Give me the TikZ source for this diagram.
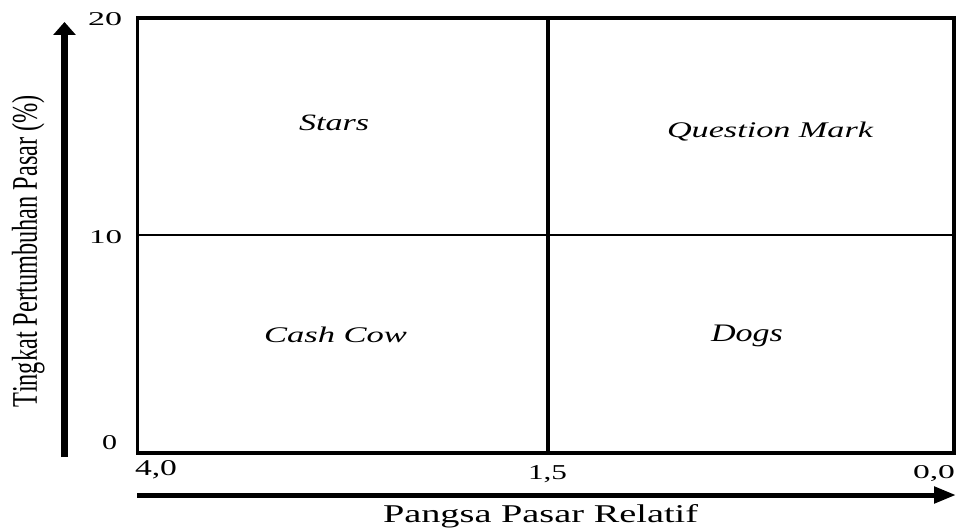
\documentclass[tikz,border=0pt]{standalone}
\usepackage{fontspec}
\setmainfont{Liberation Serif}
\usepackage{graphicx}
\usetikzlibrary{arrows.meta}
\tikzset{
  lbl/.style={inner sep=0pt, outer sep=0pt, anchor=base west},
  boxline/.style={line width=3.8pt, line cap=rect},
  axisline/.style={line width=6pt},
}
\newcommand{\fitbox}[3]{\resizebox{#1pt}{#2pt}{#3}}
\begin{document}
\begin{tikzpicture}[x=1pt,y=-1pt]
\useasboundingbox (0,0) rectangle (957,529);
% main box
\coordinate (tl) at (137.5,18);
\coordinate (br) at (954,453);
\coordinate (tm) at (548,18);
\coordinate (bm) at (548,453);
\coordinate (ml) at (137.5,235);
\coordinate (mr) at (954,235);
\draw[boxline] (tl) rectangle (br);
\draw[line width=4.5pt] (tm) -- (bm);
\draw[line width=2.6pt] (ml) -- (mr);
% axes
\coordinate (ya0) at (64.5,457);
\coordinate (ya1) at (64.5,22);
\coordinate (xa0) at (137,495);
\coordinate (xa1) at (956,495);
\draw[line width=6.5pt,-{Triangle[width=22pt,length=13pt]}] (ya0) -- (ya1);
\draw[line width=5pt,-{Triangle[width=16pt,length=22pt]}] (xa0) -- (xa1);
% quadrant labels
\node[lbl] (stars) at (299,130.5) {\fitbox{70}{15.5}{\itshape Stars}};
\node[lbl] (qm) at (667,138) {\fitbox{206}{15.5}{\itshape Question Mark}};
\node[lbl] (cash) at (264,342) {\fitbox{143}{15.5}{\itshape Cash Cow}};
\node[lbl] (dogs) at (711,341.5) {\fitbox{72}{16.5}{\itshape Dogs}};
% y ticks
\node[lbl] (y20) at (88,26) {\fitbox{34}{13}{20}};
\node[lbl] (y10) at (89,243) {\fitbox{33}{13}{10}};
\node[lbl] (y0) at (102,449) {\fitbox{15}{14}{0}};
% x ticks
\node[lbl] (x40) at (135,475) {\fitbox{42}{15}{4,0}};
\node[lbl] (x15) at (528,479) {\fitbox{39}{14}{1,5}};
\node[lbl] (x00) at (913,478) {\fitbox{42}{13}{0,0}};
% axis titles
\node[lbl] (xtitle) at (383,522) {\fitbox{315}{18}{Pangsa Pasar Relatif}};
\node[lbl, rotate=90] (ytitle) at (37,407) {\fitbox{312}{25}{Tingkat Pertumbuhan Pasar (\%)}};
\end{tikzpicture}
\end{document}
